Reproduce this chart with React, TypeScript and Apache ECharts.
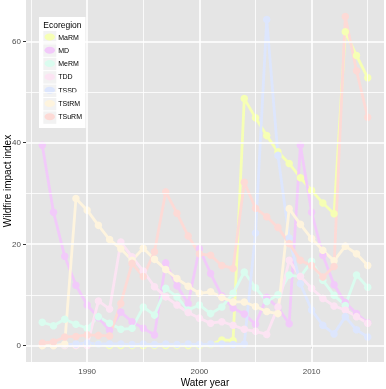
import React, { useEffect, useRef } from "react";
import * as echarts from "echarts";

const years = [1986, 1987, 1988, 1989, 1990, 1991, 1992, 1993, 1994, 1995, 1996, 1997, 1998, 1999, 2000, 2001, 2002, 2003, 2004, 2005, 2006, 2007, 2008, 2009, 2010, 2011, 2012, 2013, 2014, 2015];

const seriesNames = ["MaRM", "MD", "MeRM", "TDD", "TSSD", "TStRM", "TSuRM"];
const seriesColors = ["#F6FFB4", "#F2CAFA", "#DAFCEF", "#FCE4F3", "#DDE6FD", "#FEF4DE", "#FDDAD6"];

const MaRM = [0, 0, 0, 0, 0.2, 0.3, 0, 0, 0, 0, 0, 0, 0, 0, 0, 0.2, 1.1, 1.0, 48.7, 44.9, 41.4, 38.2, 35.9, 33.1, 30.6, 28.1, 26.0, 61.9, 57.2, 52.8];
const MD = [39.5, 26.3, 17.6, 11.9, 8.0, 5.5, 3.0, 6.6, 4.7, 3.4, 2.1, 16.3, 11.8, 8.3, 19.1, 14.2, 9.8, 7.4, 6.2, 4.2, 9.5, 7.5, 4.3, 39.5, 26.3, 17.8, 12.0, 8.5, 6.3, 4.5];
const MeRM = [4.6, 3.9, 5.2, 4.2, 3.4, 5.7, 4.4, 3.2, 3.4, 7.6, 6.0, 11.3, 9.6, 7.0, 8.0, 6.3, 7.6, 10.3, 14.5, 11.4, 8.7, 10.0, 13.9, 13.6, 16.6, 12.9, 9.9, 7.9, 13.9, 11.5];
const TDD = [0, 0, 0, 0, 0, 8.8, 7.2, 20.4, 17.5, 14.7, 11.6, 9.6, 8.0, 6.5, 5.4, 4.4, 4.7, 4.0, 3.2, 2.8, 2.2, 7.6, 16.8, 13.6, 11.3, 9.3, 7.8, 7.0, 5.7, 4.4];
const TSSD = [0.2, 0.2, 0.2, 0.3, 0.5, 0.3, 0.3, 0.3, 0.2, 0.3, 0.2, 0.3, 0.2, 0.3, 0.2, 0.3, 0.3, 0.2, 0.3, 22.2, 64.3, 37.5, 21.2, 12.2, 7.0, 4.0, 2.3, 5.7, 3.1, 1.7];
const TStRM = [0, 0, 0.3, 29.0, 26.7, 23.7, 20.9, 19.1, 16.8, 19.2, 17.0, 15.0, 13.2, 11.7, 10.3, 10.6, 9.5, 8.6, 8.6, 7.7, 6.7, 6.3, 27.0, 23.9, 21.1, 18.8, 16.7, 19.6, 18.1, 15.8];
const TSuRM = [0.5, 0.7, 1.7, 1.8, 2.1, 2.0, 1.9, 8.3, 16.2, 13.6, 18.5, 30.3, 26.1, 21.6, 18.1, 17.8, 15.8, 15.2, 32.2, 27.1, 25.4, 23.3, 20.1, 16.8, 15.8, 13.5, 15.6, 64.9, 54.2, 45.0];

const allValues = [MaRM, MD, MeRM, TDD, TSSD, TStRM, TSuRM];

const xTicks = [1990, 2000, 2010];
const xMinor = [1985, 1995, 2005, 2015];
const yTicks = [0, 20, 40, 60];
const yMinor = [10, 30, 50];

const FONT = "'Liberation Sans', Arial, sans-serif";

export default function App() {
  const ref = useRef<HTMLDivElement>(null);
  useEffect(() => {
    if (!ref.current) return;
    const chart = echarts.init(ref.current, undefined, { renderer: "svg" });

    const xMinY = Math.min(...years);
    const xMaxY = Math.max(...years);
    const xPad = (xMaxY - xMinY) * 0.05;
    let vMax = -Infinity;
    let vMin = Infinity;
    allValues.forEach((a) => a.forEach((v) => { vMax = Math.max(vMax, v); vMin = Math.min(vMin, v); }));
    const yPad = (vMax - vMin) * 0.05;

    const lineSeries = seriesNames.map((name, i) => ({
      type: "line",
      name,
      z: 2,
      data: years.map((y, j) => [y, allValues[i][j]]),
      showSymbol: false,
      symbol: "none",
      lineStyle: { color: seriesColors[i], width: 2.8 },
      itemStyle: { color: seriesColors[i] },
      emphasis: { disabled: true },
    }));
    const pointSeries = seriesNames.map((name, i) => ({
      type: "scatter",
      name,
      z: 3,
      data: years.map((y, j) => [y, allValues[i][j]]),
      symbolSize: 7.5,
      itemStyle: { color: seriesColors[i], opacity: 1 },
      emphasis: { disabled: true },
    }));

    const gridSeries = {
      type: "line",
      name: "__grid",
      z: 1,
      data: [[years[0], 0]],
      showSymbol: false,
      lineStyle: { opacity: 0 },
      silent: true,
      markLine: {
        silent: true,
        symbol: ["none", "none"],
        label: { show: false },
        emphasis: { disabled: true },
        data: [
          ...xTicks.map((v) => ({ xAxis: v, lineStyle: { color: "#FFFFFF", width: 1.6, type: "solid" } })),
          ...xMinor.map((v) => ({ xAxis: v, lineStyle: { color: "#FFFFFF", width: 0.8, type: "solid" } })),
          ...yTicks.map((v) => ({ yAxis: v, lineStyle: { color: "#FFFFFF", width: 1.6, type: "solid" } })),
          ...yMinor.map((v) => ({ yAxis: v, lineStyle: { color: "#FFFFFF", width: 0.8, type: "solid" } })),
        ],
      },
    };

    const keyTop = 31;
    const legGap = 13.4;
    const graphics: any[] = [
      { type: "rect", z: 3, shape: { x: 39, y: 17, width: 46.5, height: 111 }, style: { fill: "#FFFFFF" } },
      { type: "text", z: 3, style: { text: "Ecoregion", x: 43.3, y: 24.5, font: `8.5px ${FONT}`, fill: "#000000", textVerticalAlign: "middle" } },
    ];
    seriesNames.forEach((_, i) => {
      graphics.push({ type: "rect", z: 3, shape: { x: 43.3, y: keyTop + i * legGap, width: 13, height: 12.4 }, style: { fill: "#F2F2F2" } });
    });

    chart.setOption({
      animation: false,
      grid: {
        left: 26, right: 2, top: 0, bottom: 27,
        containLabel: false, outerBoundsMode: "none",
        show: true, backgroundColor: "#E5E5E5", borderWidth: 0,
      },
      xAxis: {
        type: "value",
        min: xMinY - xPad,
        max: xMaxY + xPad,
        name: "Water year",
        nameLocation: "middle",
        nameGap: 15,
        nameMoveOverlap: false,
        nameTextStyle: { fontFamily: FONT, fontSize: 10, color: "#000000" },
        axisLine: { show: false },
        axisTick: { show: true, length: 3, lineStyle: { color: "#333333", width: 1 }, customValues: xTicks },
        axisLabel: { customValues: xTicks, formatter: (v: number) => String(v), fontFamily: FONT, fontSize: 8, color: "#4D4D4D", margin: 5 },
        splitLine: { show: false },
      },
      yAxis: {
        type: "value",
        min: vMin - yPad,
        max: vMax + yPad,
        name: "Wildfire impact index",
        nameLocation: "middle",
        nameGap: 14,
        nameMoveOverlap: false,
        nameTextStyle: { fontFamily: FONT, fontSize: 10, color: "#000000" },
        axisLine: { show: false },
        axisTick: { show: true, length: 3, lineStyle: { color: "#333333", width: 1 }, customValues: yTicks },
        axisLabel: { customValues: yTicks, formatter: (v: number) => String(v), fontFamily: FONT, fontSize: 8, color: "#4D4D4D", margin: 5 },
        splitLine: { show: false },
      },
      legend: {
        show: true,
        orient: "vertical",
        left: 44.5,
        top: 33.5,
        itemWidth: 11,
        itemHeight: 7,
        itemGap: 6.3,
        selectedMode: false,
        backgroundColor: "transparent",
        padding: 0,
        data: seriesNames.map((n) => ({ name: n, icon: "path://M0,4 A6,4 0 1,0 12,4 A6,4 0 1,0 0,4 Z" })),
        textStyle: { fontFamily: FONT, fontSize: 7, color: "#000000", padding: [0, 0, 0, -2] },
      },
      graphic: graphics,
      series: [gridSeries, ...lineSeries, ...pointSeries],
    });

    return () => chart.dispose();
  }, []);

  return <div ref={ref} style={{ position: "fixed", left: 0, top: 0, width: 386, height: 389 }} />;
}
